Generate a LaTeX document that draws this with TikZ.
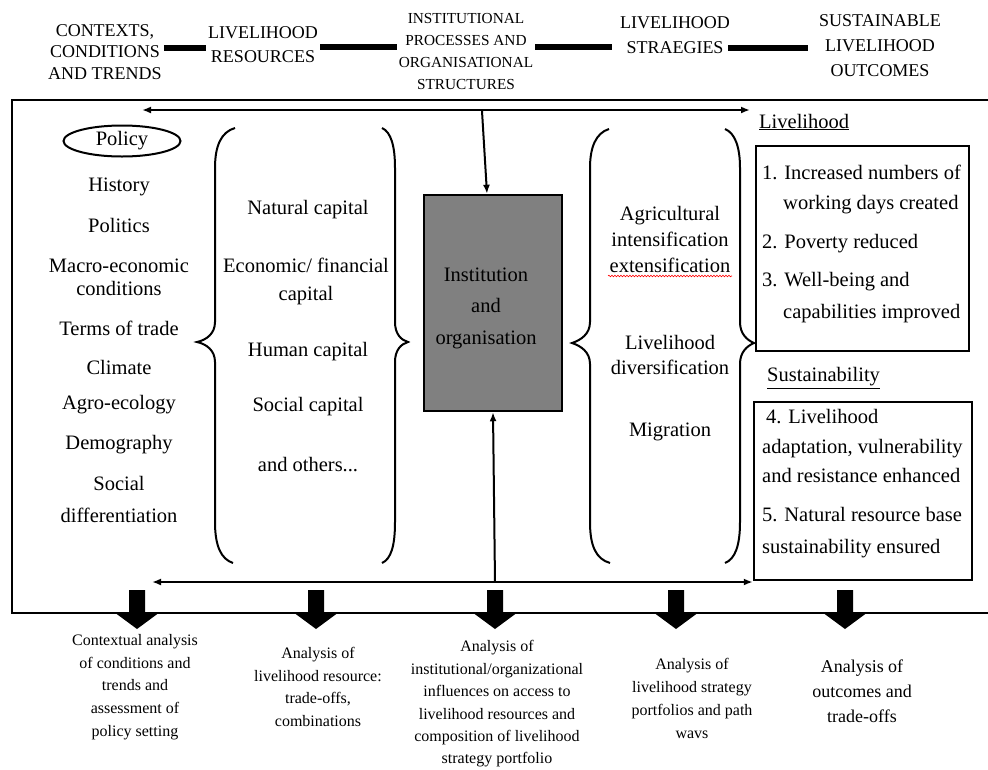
\documentclass[tikz,border=0pt]{standalone}
\usepackage{fontspec}
\setmainfont{Liberation Serif}
\usetikzlibrary{arrows.meta,shapes.geometric,decorations.pathmorphing}
\newcommand{\fsz}[2]{\fontsize{#1}{#2}\selectfont}
\definecolor{boxgrey}{RGB}{128,128,128}
\begin{document}
\begin{tikzpicture}[x=1pt,y=-1pt,
  txt/.style={inner sep=0pt, align=center, font=\fsz{20.5}{23.5}},
  ltxt/.style={inner sep=0pt, anchor=west, font=\fsz{20.5}{23.5}, text height=14pt, text depth=4pt},
  hdr/.style={inner sep=2pt, align=center, font=\fsz{18}{21.5}},
  btxt/.style={inner sep=0pt, align=center, font=\fsz{16}{22.6}},
  bar/.style={line width=6pt},
  arr/.style={line width=2pt, -{Latex[length=9pt,width=7pt]}},
  darr/.style={line width=2pt, {Latex[length=9pt,width=7pt]}-{Latex[length=9pt,width=7pt]}},
  brace/.style={line width=2pt},
  obox/.style={draw, line width=2.5pt, inner sep=0pt},
]
\useasboundingbox (0,0) rectangle (988,769);

% headers
\node[hdr] (h1) at (105,52) {CONTEXTS,\\CONDITIONS\\AND TRENDS};
\node[hdr, font=\fsz{18}{24}] (h2) at (263,45) {LIVELIHOOD\\RESOURCES};
\node[hdr, font=\fsz{15.3}{22}] (h3) at (466,52) {INSTITUTIONAL\\PROCESSES AND\\ORGANISATIONAL\\STRUCTURES};
\node[hdr, font=\fsz{18}{25}] (h4) at (675,35) {LIVELIHOOD\\STRAEGIES};
\node[hdr, font=\fsz{18}{25}] (h5) at (880,46) {SUSTAINABLE\\LIVELIHOOD\\OUTCOMES};
\draw[bar] (h1.east |- 0,48) -- (h2.west |- 0,48);
\draw[bar] (h2.east |- 0,47) -- (h3.west |- 0,47);
\draw[bar, shorten >=6pt] (h3.east |- 0,47) -- (h4.west |- 0,47);
\draw[bar, shorten <=-4pt, shorten >=9pt] (h4.east |- 0,48) -- (h5.west |- 0,48);

% frame
\draw[line width=1.3pt] (995,100) -- (12,100) -- (12,613) -- (995,613);

% left column
\node[ellipse, draw, line width=2pt, minimum width=117, minimum height=31, inner sep=0pt, font=\fsz{20.5}{23.5}] (policy) at (122,141) {Policy};
\node[txt] (history) at (119,187) {History};
\node[txt] (politics) at (119,225) {Politics};
\node[txt, font=\fsz{20.5}{23}] (macro) at (119,277) {Macro-economic\\conditions};
\node[txt] (terms) at (119,328) {Terms of trade};
\node[txt] (climate) at (119,367) {Climate};
\node[txt] (agro) at (119,405) {Agro-ecology};
\node[txt] (demo) at (119,445) {Demography};
\node[txt, font=\fsz{20.5}{32}] (social) at (119,499) {Social\\differentiation};

% capitals
\node[txt] (nat) at (308,210) {Natural capital};
\node[txt, font=\fsz{20.5}{28}] (econ) at (306,281) {Economic/ financial\\capital};
\node[txt] (hum) at (308,352) {Human capital};
\node[txt] (soc) at (308,407) {Social capital};
\node[txt] (oth) at (308,465) {and others...};

% braces (capitals)
\draw[brace] (235,128) .. controls (221,132) and (215,146) .. (215,168) -- (215,322)
  .. controls (215,334) and (206,340) .. (197,342)
  .. controls (206,344) and (215,350) .. (215,362) -- (215,522)
  .. controls (215,546) and (221,559) .. (233,563);
\draw[brace] (382,128) .. controls (391,132) and (395,146) .. (395,168) -- (395,322)
  .. controls (395,334) and (401,340) .. (408,342)
  .. controls (401,344) and (395,350) .. (395,362) -- (395,522)
  .. controls (395,546) and (391,559) .. (382,563);

% braces (strategies)
\draw[brace] (609,129) .. controls (596,133) and (590,147) .. (590,168) -- (590,322)
  .. controls (590,334) and (581,340) .. (572,343)
  .. controls (581,346) and (590,352) .. (590,364) -- (590,522)
  .. controls (590,546) and (596,559) .. (610,563);
\draw[brace] (725,129) .. controls (735,133) and (740,147) .. (740,168) -- (740,322)
  .. controls (740,334) and (747,340) .. (754,343)
  .. controls (747,346) and (740,352) .. (740,364) -- (740,522)
  .. controls (740,546) and (735,559) .. (725,563);

% institution box
\node[obox, fill=boxgrey, minimum width=138, minimum height=216] (box) at (493,303) {};
\node[txt, font=\fsz{20.5}{31.5}] (boxtext) at (486,308) {Institution\\and\\organisation};

% top arrow and arrow into box
\coordinate (tl) at (142,110);
\coordinate (tr) at (750,110);
\draw[darr] (tl) -- (tr);
\coordinate (td) at (482,111);
\draw[arr] (td) -- ([xshift=-6pt]box.north);

% strategies
\node[txt, font=\fsz{20.5}{26}] (agri) at (670,239) {Agricultural\\intensification\\extensification};
\draw[red, line width=0.6pt, decorate, decoration={snake, segment length=3pt, amplitude=0.8pt}] (608,276) -- (732,276);
\node[txt, font=\fsz{20.5}{25}] (divers) at (670,355) {Livelihood\\diversification};
\node[txt] (migr) at (670,432) {Migration};

% outcomes
\node[inner sep=0pt, anchor=west, font=\fsz{20.5}{23.5}] (livlab) at (759,122) {\underline{Livelihood}};
\node[obox, minimum width=213, minimum height=205] (liv) at (862.5,248.5) {};
\node[ltxt] (o1) at (762,174) {1. Increased numbers of};
\node[ltxt] (o1b) at (783,204) {working days created};
\node[ltxt] (o2) at (762,243) {2. Poverty reduced};
\node[ltxt] (o3) at (762,281) {3. Well-being and};
\node[ltxt] (o3b) at (783,313) {capabilities improved};

\node[inner sep=0pt, anchor=west, font=\fsz{20.5}{23.5}] (suslab) at (767,378) {\underline{Sustainability}};
\node[obox, minimum width=218, minimum height=178] (sus) at (863,491) {};
\node[ltxt] (o4) at (766,418) {4. Livelihood};
\node[ltxt] (o4b) at (762,448) {adaptation, vulnerability};
\node[ltxt] (o4c) at (762,477) {and resistance enhanced};
\node[ltxt] (o5) at (762,516) {5. Natural resource base};
\node[ltxt] (o5b) at (762,548) {sustainability ensured};

% bottom arrow and arrow up into box
\coordinate (bl) at (152,582);
\draw[darr] (bl) -- (sus.west |- bl);
\coordinate (bu) at (495,582);
\draw[arr] (bu) -- (box.south);

% big down arrows
\foreach \x in {137,316,495,676,845}
  \fill (\x-8,590) -- (\x+8,590) -- (\x+8,612) -- (\x+23,612) -- (\x,629) -- (\x-23,612) -- (\x-8,612) -- cycle;

% bottom texts
\node[btxt] (a1) at (135,687) {Contextual analysis\\of conditions and\\trends and\\assessment of\\policy setting};
\node[btxt] (a2) at (318,687) {Analysis of\\livelihood resource:\\trade-offs,\\combinations};
\node[btxt, font=\fsz{16}{22.4}] (a3) at (497,704) {Analysis of\\institutional/organizational\\influences on access to\\livelihood resources and\\composition of livelihood\\strategy portfolio};
\node[btxt, font=\fsz{16}{23}] (a4) at (692,698) {Analysis of\\livelihood strategy\\portfolios and path\\wavs};
\node[btxt, font=\fsz{18}{25}] (a5) at (862,691) {Analysis of\\outcomes and\\trade-offs};
\end{tikzpicture}
\end{document}
